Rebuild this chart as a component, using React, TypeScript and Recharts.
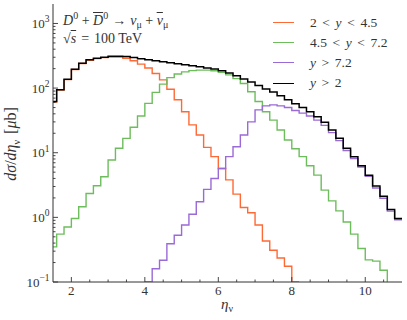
import React from "react";
import { LineChart, Line, XAxis, YAxis } from "recharts";

// bin edges in eta_nu (bins are 0.2 wide, first one is cut by the axis)
const etaEdges = [
  1.4, 1.6, 1.8, 2.0, 2.2, 2.4, 2.6, 2.8, 3.0, 3.2, 3.4, 3.6, 3.8, 4.0, 4.2, 4.4, 4.6,
  4.8, 5.0, 5.2, 5.4, 5.6, 5.8, 6.0, 6.2, 6.4, 6.6, 6.8, 7.0, 7.2, 7.4, 7.6, 7.8, 8.0,
  8.2, 8.4, 8.6, 8.8, 9.0, 9.2, 9.4, 9.6, 9.8, 10.0, 10.2, 10.4, 10.6, 10.8, 11.0,
];

// dsigma/deta per bin [mub]
const lowRap = [
  61, 93, 135, 194, 240, 270, 286, 296, 303, 303, 290, 265, 235, 205, 168, 134, 96,
  66, 43, 27, 18.8, 12.1, 8.7, 5.7, 3.8, 2.29, 1.42, 1.18, 0.76, 0.43, 0.31, 0.235,
  0.175, 0.1, null, null, null, null, null, null, null, null, null, null, null, null,
  null, null,
];
const midRap = [
  0.35, 0.55, 0.71, 0.96, 1.46, 2.34, 3.08, 4.25, 7.7, 11.7, 16.7, 24.8, 37, 58, 86,
  115, 145, 165, 178, 186, 190, 190, 185, 175, 160, 140, 118, 88, 62, 43, 32, 22.5,
  15.7, 11.5, 8.7, 6.3, 4.5, 2.64, 1.8, 1.26, 0.85, 0.55, 0.33, 0.22, 0.21, 0.152,
  0.07, 0.05,
];
const highRap = [
  null, null, null, null, null, null, null, null, null, null, null, null, null, 0.1,
  0.16, 0.217, 0.39, 0.53, 0.76, 1.12, 1.74, 2.71, 4.0, 5.7, 8.7, 12.4, 18.8, 30, 46,
  53, 55, 53, 50, 45, 41, 37, 32, 26.5, 20.5, 15.4, 10.8, 8.1, 6.0, 4.3, 2.85, 1.98,
  1.25, 0.92,
];
const allRap = [
  62, 94, 137, 196, 243, 274, 290, 301, 310, 312, 308, 297, 285, 274, 264, 255, 246,
  238, 230, 221, 213, 205, 197, 186, 171, 155, 138, 124, 110, 97, 87, 76, 66, 57, 50,
  43, 36, 29.5, 22.5, 16.7, 11.7, 8.7, 6.3, 4.5, 3.05, 2.13, 1.32, 0.96,
];

const xTicks = [2, 2.5, 3, 3.5, 4, 4.5, 5, 5.5, 6, 6.5, 7, 7.5, 8, 8.5, 9, 9.5, 10, 10.5];
const xMajor = [2, 4, 6, 8, 10];
const yTicks = [
  0.1, 0.2, 0.3, 0.4, 0.5, 0.6, 0.7, 0.8, 0.9, 1, 2, 3, 4, 5, 6, 7, 8, 9, 10, 20, 30,
  40, 50, 60, 70, 80, 90, 100, 200, 300, 400, 500, 600, 700, 800, 900, 1000,
];
const yMajor = [0.1, 1, 10, 100, 1000];
const yExp = ["\u22121", "0", "1", "2", "3"];

const series = [
  { key: "low", color: "#fe6a35", lo: "2", hi: "4.5" },
  { key: "mid", color: "#6dbd5d", lo: "4.5", hi: "7.2" },
  { key: "high", color: "#9a6ad6", lo: "", hi: "7.2" },
  { key: "all", color: "#000000", lo: "", hi: "2" },
];

// two points per bin -> flat steps with vertical jumps at the edges
const rows: any[] = [];
lowRap.forEach((_, i) => {
  const v = { low: lowRap[i], mid: midRap[i], high: highRap[i], all: allRap[i] };
  rows.push({ eta: etaEdges[i], ...v });
  rows.push({ eta: etaEdges[i + 1], ...v });
});

const ink = "#333";
const serif = "'Liberation Serif', 'DejaVu Serif', serif";

const xTick = (side: string) => (props: any) => {
  const { x, y, payload } = props;
  const major = xMajor.includes(payload.value);
  const len = major ? 5 : 2.5;
  const d = side === "bottom" ? -len : len;
  return (
    <g>
      <line x1={x} x2={x} y1={y} y2={y + d} stroke={ink} strokeWidth={0.9} />
      {side === "bottom" && major ? (
        <text x={x} y={y + 12.5} textAnchor="middle" fontFamily={serif} fontSize={13} fill={ink}>
          {payload.value}
        </text>
      ) : null}
    </g>
  );
};

const yTick = (side: string) => (props: any) => {
  const { x, y, payload } = props;
  const idx = yMajor.findIndex((m) => Math.abs(m - payload.value) < 1e-9);
  const len = idx >= 0 ? 5 : 2.5;
  const d = side === "left" ? len : -len;
  return (
    <g>
      <line x1={x} x2={x + d} y1={y} y2={y} stroke={ink} strokeWidth={0.9} />
      {side === "left" && idx >= 0 ? (
        <text x={x - 3.5} y={y + 4.5} textAnchor="end" fontFamily={serif} fontSize={13} fill={ink}>
          10
          <tspan dy={-5.5} fontSize={9.5}>
            {yExp[idx]}
          </tspan>
        </text>
      ) : null}
    </g>
  );
};

const Rel = ({ c }: { c: string }) => <span style={{ margin: "0 5.6px" }}>{c}</span>;
const Op = ({ c, m = 3.5 }: { c: string; m?: number }) => <span style={{ margin: `0 ${m}px` }}>{c}</span>;
const Sup = ({ c }: { c: string }) => (
  <span style={{ position: "relative", top: -5.5, fontSize: 10 }}>{c}</span>
);
const Sub = ({ c }: { c: string }) => (
  <span style={{ position: "relative", top: 3.5, fontSize: 10 }}>{c}</span>
);
const Bar = ({ children }: { children: any }) => (
  <span style={{ textDecoration: "overline" }}>{children}</span>
);

export default function App() {
  return (
    <div style={{ position: "absolute", left: 0, top: 0, width: 407, height: 320, background: "#fff" }}>
      <LineChart width={407} height={320} data={rows} margin={{ top: 4, right: 5, bottom: 0, left: 0 }}>
        <XAxis dataKey="eta" type="number" domain={[1.5, 11]} allowDataOverflow ticks={xTicks}
          interval={0} tickSize={0} tickMargin={0} tickLine={false} tick={xTick("bottom")}
          height={38} axisLine={{ stroke: ink }} />
        <XAxis xAxisId="top" orientation="top" dataKey="eta" type="number" domain={[1.5, 11]}
          allowDataOverflow ticks={xTicks} interval={0} tickSize={0} tickMargin={0} tickLine={false}
          tick={xTick("top")} height={0} axisLine={{ stroke: ink }} />
        <YAxis type="number" scale="log" domain={[0.1, 2000]} allowDataOverflow ticks={yTicks}
          interval={0} tickSize={0} tickMargin={0} tickLine={false} tick={yTick("left")}
          width={53} axisLine={{ stroke: ink }} />
        <YAxis yAxisId="right" orientation="right" type="number" scale="log" domain={[0.1, 2000]}
          allowDataOverflow ticks={yTicks} interval={0} tickSize={0} tickMargin={0} tickLine={false}
          tick={yTick("right")} width={0} axisLine={{ stroke: ink }} />
        {series.map((s) => (
          <Line key={s.key} dataKey={s.key} type="linear" stroke={s.color} dot={false}
            strokeWidth={s.key === "all" ? 1.5 : 1.4} isAnimationActive={false} />
        ))}
      </LineChart>

      {/* annotation */}
      <div style={{ position: "absolute", left: 63, top: 12.5, fontFamily: serif, fontSize: 14, lineHeight: "16px", color: ink, whiteSpace: "nowrap" }}>
        <i>D</i><Sup c="0" /><Op c="+" /><Bar><i>D</i></Bar><Sup c="0" /><Op c={"\u2192"} m={4} />
        <i>{"\u03bd"}</i><Sub c={"\u03bc"} /><Op c="+" /><Bar><i>{"\u03bd"}</i></Bar><Sub c={"\u03bc"} />
      </div>
      <div style={{ position: "absolute", left: 63, top: 30.5, fontFamily: serif, fontSize: 14, lineHeight: "16px", color: ink, whiteSpace: "nowrap" }}>
        {"\u221a"}<Bar><i>s</i></Bar><Op c="=" m={5} />100 TeV
      </div>

      {/* legend */}
      {series.map((s, i) => {
        const yc = 22.7 + 20.2 * i;
        return (
          <React.Fragment key={s.key}>
            <div style={{ position: "absolute", left: 273, top: yc - 0.75, width: 21, borderTop: `1.5px solid ${s.color}` }} />
            <div style={{ position: "absolute", left: 310, top: yc - 8, fontFamily: serif, fontSize: 13.5, lineHeight: "16px", color: ink, whiteSpace: "nowrap" }}>
              {s.lo ? (
                <>
                  {s.lo}<Rel c="<" /><i>y</i><Rel c="<" />{s.hi}
                </>
              ) : (
                <>
                  <i>y</i><Rel c=">" />{s.hi}
                </>
              )}
            </div>
          </React.Fragment>
        );
      })}

      {/* axis titles */}
      <div style={{ position: "absolute", left: 221, top: 295.5, fontFamily: serif, fontSize: 15, lineHeight: "16px", color: ink }}>
        <i>{"\u03b7"}</i><Sub c={"\u03bd"} />
      </div>
      <div style={{ position: "absolute", left: 12, top: 144, transform: "translate(-50%, -50%) rotate(-90deg)", fontFamily: serif, fontSize: 16, lineHeight: "18px", color: ink, whiteSpace: "nowrap" }}>
        <i>d{"\u03c3"}</i>/<i>d{"\u03b7"}</i><Sub c={"\u03bd"} />
        <span style={{ marginLeft: 6 }}>[<i>{"\u03bc"}</i>b]</span>
      </div>
    </div>
  );
}
